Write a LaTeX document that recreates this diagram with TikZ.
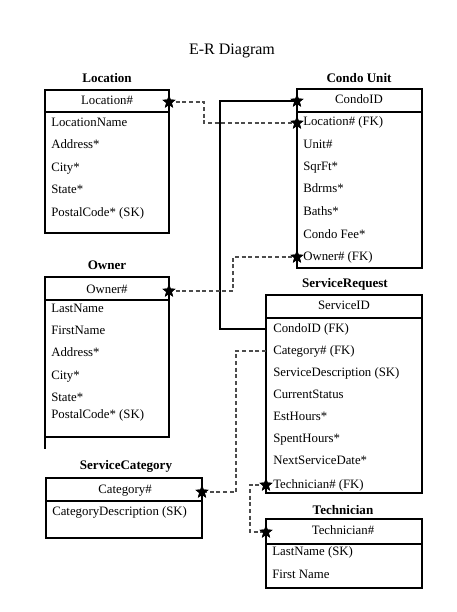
\documentclass[tikz,border=0pt]{standalone}
\usepackage{fontspec}
\setmainfont{Liberation Serif}
\usetikzlibrary{shapes.geometric}

\begin{document}
\begin{tikzpicture}[x=0.75pt,y=-0.75pt]
\tikzstyle{every node}+=[inner sep=0pt, font=\fontsize{9.6}{11}\selectfont]
\tikzstyle{ttl}=[font=\fontsize{9.8}{11}\selectfont\bfseries, text height=1.6ex, text depth=0.4ex]
\tikzstyle{row}=[anchor=west, text height=1.6ex, text depth=0.4ex]
\tikzstyle{fkstar}=[star, star points=5, star point ratio=2.4, fill=black, minimum size=10.5pt]
\tikzstyle{fklink}=[dash pattern=on 3pt off 2pt, black!70, line width=0.8pt]
\tikzstyle{entity}=[line width=0.8pt]
\useasboundingbox (0,0) rectangle (457,612);
\draw (232,51) node [font=\fontsize{12}{14}\selectfont] (title) {E-R Diagram};
% Location
\draw (107,79) node [ttl] (locttl) {Location};
\draw [entity] (45,90) rectangle (169,233);
\draw [entity] (45,112) -- (169,112);
\draw (107,101) node [row, anchor=center] (locid) {Location\#};
\draw (51,123) node [row] (locname) {LocationName};
\draw (51,145) node [row] (locaddr) {Address*};
\draw (51,168) node [row] (loccity) {City*};
\draw (51,190) node [row] (locstate) {State*};
\draw (51,213) node [row] (loczip) {PostalCode* (SK)};
% Condo Unit
\draw (359,79) node [ttl] (cuttl) {Condo Unit};
\draw [entity] (297,89) rectangle (422,268);
\draw [entity] (297,112) -- (422,112);
\draw (359,100) node [row, anchor=center] (cuid) {CondoID};
\draw (303,122) node [row] (culoc) {Location\# (FK)};
\draw (303,145) node [row] (cuunit) {Unit\#};
\draw (303,167) node [row] (cusqft) {SqrFt*};
\draw (303,189) node [row] (cubdrm) {Bdrms*};
\draw (303,212) node [row] (cubath) {Baths*};
\draw (303,235) node [row] (cufee) {Condo Fee*};
\draw (303,257) node [row] (cuowner) {Owner\# (FK)};
% Owner
\draw (107,266) node [ttl] (owttl) {Owner};
\draw [entity] (45,277) rectangle (169,437);
\draw [entity] (45,300) -- (169,300);
\draw [entity] (45,437) -- (45,449);
\draw (107,290) node [row, anchor=center] (owid) {Owner\#};
\draw (51,309) node [row] (owlast) {LastName};
\draw (51,331) node [row] (owfirst) {FirstName};
\draw (51,353) node [row] (owaddr) {Address*};
\draw (51,376) node [row] (owcity) {City*};
\draw (51,398) node [row] (owstate) {State*};
\draw (51,415) node [row] (owzip) {PostalCode* (SK)};
% ServiceRequest
\draw (345,284) node [ttl] (srttl) {ServiceRequest};
\draw [entity] (266,295) rectangle (422,493);
\draw [entity] (266,318) -- (422,318);
\draw (344,306) node [row, anchor=center] (srid) {ServiceID};
\draw (273,329) node [row] (srcondo) {CondoID (FK)};
\draw (273,351) node [row] (srcat) {Category\# (FK)};
\draw (273,373) node [row] (srdesc) {ServiceDescription (SK)};
\draw (273,395) node [row] (srstatus) {CurrentStatus};
\draw (273,417) node [row] (srest) {EstHours*};
\draw (273,439) node [row] (srspent) {SpentHours*};
\draw (273,461) node [row] (srnext) {NextServiceDate*};
\draw (273,485) node [row] (srtech) {Technician\# (FK)};
% ServiceCategory
\draw (126,466) node [ttl] (scttl) {ServiceCategory};
\draw [entity] (46,478) rectangle (202,538);
\draw [entity] (46,501) -- (202,501);
\draw (125,490) node [row, anchor=center] (scid) {Category\#};
\draw (52,512) node [row] (scdesc) {CategoryDescription (SK)};
% Technician
\draw (343,511) node [ttl] (tettl) {Technician};
\draw [entity] (266,519) rectangle (422,588);
\draw [entity] (266,544) -- (422,544);
\draw (343,531) node [row, anchor=center] (teid) {Technician\#};
\draw (272,552) node [row] (telast) {LastName (SK)};
\draw (272,575) node [row] (tefirst) {First Name};
% link ends
\coordinate (srcondoend) at (266,329);
\coordinate (srcatend) at (266,351);
\node [fkstar] (locstar) at (169,102) {};
\node [fkstar] (culocstar) at (297,123) {};
\node [fkstar] (cuidstar) at (297,101) {};
\node [fkstar] (owstar) at (169,291) {};
\node [fkstar] (cuowstar) at (297,257) {};
\node [fkstar] (scstar) at (202,492) {};
\node [fkstar] (srtechstar) at (266,485) {};
\node [fkstar] (testar) at (266,532) {};
% links
\draw [fklink] (locstar.center) -- (204,102) -- (204,123) -- (culocstar.center);
\draw [entity] (cuidstar.center) -- (220,101) -- (220,329) -- (srcondoend);
\draw [fklink] (owstar.center) -- (233,291) -- (233,257) -- (cuowstar.center);
\draw [fklink] (srcatend) -- (236,351) -- (236,492) -- (scstar.center);
\draw [fklink] (srtechstar.center) -- (250,485) -- (250,532) -- (testar.center);
% stars on top
\foreach \s in {locstar,culocstar,cuidstar,owstar,cuowstar,scstar,srtechstar,testar}
  \node [fkstar] at (\s) {};
\end{tikzpicture}
\end{document}
